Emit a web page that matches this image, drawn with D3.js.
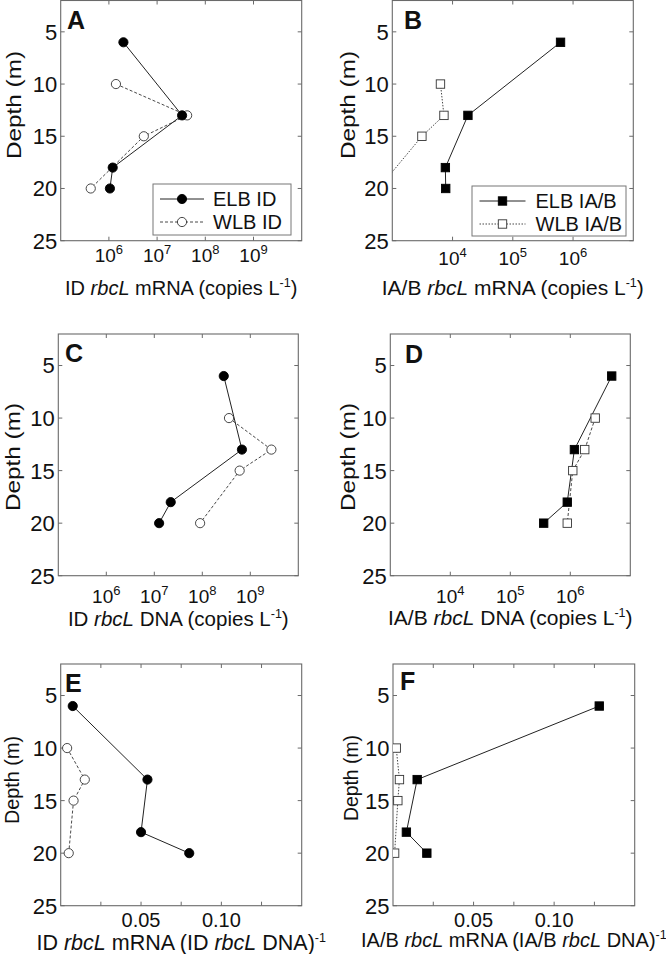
<!DOCTYPE html>
<html>
<head>
<meta charset="utf-8">
<script src="https://cdn.jsdelivr.net/npm/d3@7"></script>
<style>
  html, body { margin: 0; padding: 0; background: #fff; }
  svg { display: block; }
  text { font-family: "Liberation Sans", Arial, sans-serif; fill: #111; }
</style>
</head>
<body>
<svg id="chart" width="666" height="954"></svg>
<script>
// ---------------- DATA ----------------
const depthsELB = [6, 13, 18, 20];
const depthsWLB = [10, 13, 15, 20];
const depthTicks = [5, 10, 15, 20, 25];

// Panel A: ID rbcL mRNA (copies L-1)
const idMrnaELB = [2.0e6, 3.3e7, 1.2e6, 1.05e6];
const idMrnaWLB = [1.4e6, 4.2e7, 5.3e6, 4.2e5];
// Panel B: IA/B rbcL mRNA (copies L-1)
const iabMrnaELB = [6.2e5, 1.8e4, 7.6e3, 7.7e3];
const iabMrnaWLB = [6.3e3, 7.2e3, 3.1e3, 5.9e2];
// Panel C: ID rbcL DNA (copies L-1)
const idDnaELB = [2.8e8, 6.7e8, 2.2e7, 1.26e7];
const idDnaWLB = [3.6e8, 2.75e9, 6.0e8, 9.0e7];
// Panel D: IA/B rbcL DNA (copies L-1)
const iabDnaELB = [4.9e6, 1.17e6, 8.9e5, 3.6e5];
const iabDnaWLB = [2.6e6, 1.74e6, 1.1e6, 8.9e5];
// Panel E: ID mRNA / DNA ratio
const idRatioELB = [0.0075, 0.054, 0.050, 0.080];
const idRatioWLB = [0.004, 0.015, 0.008, 0.005];
// Panel F: IA/B mRNA / DNA ratio
const iabRatioELB = [0.128, 0.015, 0.0083, 0.021];
const iabRatioWLB = [0.002, 0.004, 0.003, 0.001];

const logTicksID = [1e6, 1e7, 1e8, 1e9];
const logTicksIAB = [1e4, 1e5, 1e6];
const ratioTicks = [0.025, 0.05, 0.075, 0.10, 0.125];
const ratioTickLabels = [0.05, 0.10];

const legendID = ["ELB ID", "WLB ID"];
const legendIAB = ["ELB IA/B", "WLB IA/B"];

// ---------------- LAYOUT ----------------
const panels = [
  { letter: "A", x0: 60.7, x1: 301.7, y0: 0.5, y1: 240.7, log: true, xdom: [1e5, 1e10],
    ticks: logTicksID, labels: logTicksID, elb: idMrnaELB, wlb: idMrnaWLB, marker: "circle", wlbDash: "3,2",
    tickBase: 262, tickFs: 19, titleBase: 295, titleFs: 20, title: ["ID ", "rbcL", " mRNA (copies  L", "-1", ")"],
    yTitleX: 21, yTitleY: 105, yTitleLen: 108, legend: legendID, legBox: [153, 184, 291, 235],
    letterPos: [67, 28.5] },
  { letter: "B", x0: 392.3, x1: 633.3, y0: 0.5, y1: 240.7, log: true, xdom: [1e3, 1e7],
    ticks: logTicksIAB, labels: logTicksIAB, elb: iabMrnaELB, wlb: iabMrnaWLB, marker: "square", wlbDash: "1.5,1.5",
    tickBase: 265, tickFs: 19, titleBase: 295, titleFs: 21, title: ["IA/B ", "rbcL", " mRNA (copies  L", "-1", ")"],
    yTitleX: 355, yTitleY: 105, yTitleLen: 108, legend: legendIAB, legBox: [472, 186, 626, 236],
    letterPos: [404, 28.5] },
  { letter: "C", x0: 58.3, x1: 298.3, y0: 334, y1: 575.7, log: true, xdom: [1e5, 1e10],
    ticks: logTicksID, labels: logTicksID, elb: idDnaELB, wlb: idDnaWLB, marker: "circle", wlbDash: "3,2",
    tickBase: 603, tickFs: 19, titleBase: 626, titleFs: 20.5, title: ["ID ", "rbcL", " DNA (copies L", "-1", ")"],
    yTitleX: 19.5, yTitleY: 457, yTitleLen: 108, legend: null,
    letterPos: [65, 362] },
  { letter: "D", x0: 390.3, x1: 630.3, y0: 334, y1: 575.7, log: true, xdom: [1e3, 1e7],
    ticks: logTicksIAB, labels: logTicksIAB, elb: iabDnaELB, wlb: iabDnaWLB, marker: "square", wlbDash: "3,2",
    tickBase: 603, tickFs: 19, titleBase: 625, titleFs: 21, title: ["IA/B ", "rbcL", " DNA (copies  L", "-1", ")"],
    yTitleX: 355, yTitleY: 457, yTitleLen: 108, legend: null,
    letterPos: [405, 362.5] },
  { letter: "E", x0: 60.7, x1: 301.7, y0: 664, y1: 905.7, log: false, xdom: [0, 0.15],
    ticks: ratioTicks, labels: ratioTickLabels, elb: idRatioELB, wlb: idRatioWLB, marker: "circle", wlbDash: "3,2",
    tickBase: 927, tickFs: 20, titleBase: 950, titleFs: 21.5, title: ["ID ", "rbcL", " mRNA (ID ", "rbcL", " DNA)", "-1"],
    yTitleX: 19, yTitleY: 780, yTitleLen: 88, legend: null,
    letterPos: [65, 691.5] },
  { letter: "F", x0: 393, x1: 634.7, y0: 664, y1: 905.7, log: false, xdom: [0, 0.15],
    ticks: ratioTicks, labels: ratioTickLabels, elb: iabRatioELB, wlb: iabRatioWLB, marker: "square", wlbDash: "1.5,1.5",
    tickBase: 927, tickFs: 20, titleBase: 947, titleFs: 20, title: ["IA/B ", "rbcL", " mRNA (IA/B ", "rbcL", " DNA)", "-1"],
    yTitleX: 358, yTitleY: 778, yTitleLen: 86, legend: null,
    letterPos: [400, 690] }
];

const svg = d3.select("#chart");
const frameColor = "#6a6a6a";
const tickLen = 4;

function drawMarker(g, type, x, y, filled) {
  if (type === "circle") {
    g.append("circle").attr("cx", x).attr("cy", y).attr("r", 4.6)
      .attr("fill", filled ? "#000" : "#fff").attr("stroke", filled ? "#000" : "#333").attr("stroke-width", 0.9);
  } else {
    const s = 8.4;
    g.append("rect").attr("x", x - s / 2).attr("y", y - s / 2).attr("width", s).attr("height", s)
      .attr("fill", filled ? "#000" : "#fff").attr("stroke", filled ? "#000" : "#333").attr("stroke-width", 0.9);
  }
}

panels.forEach((p, i) => {
  const x = (p.log ? d3.scaleLog() : d3.scaleLinear()).domain(p.xdom).range([p.x0, p.x1]);
  const y = d3.scaleLinear().domain([2, 25]).range([p.y0, p.y1]);
  const g = svg.append("g");

  // ticks: bottom/top (inward)
  const ax = g.append("g").attr("stroke", frameColor).attr("stroke-width", 1);
  p.ticks.forEach(t => {
    ax.append("line").attr("x1", x(t)).attr("x2", x(t)).attr("y1", p.y1).attr("y2", p.y1 - tickLen);
    ax.append("line").attr("x1", x(t)).attr("x2", x(t)).attr("y1", p.y0).attr("y2", p.y0 + tickLen);
  });
  depthTicks.forEach(t => {
    ax.append("line").attr("x1", p.x0).attr("x2", p.x0 + tickLen).attr("y1", y(t)).attr("y2", y(t));
    ax.append("line").attr("x1", p.x1).attr("x2", p.x1 - tickLen).attr("y1", y(t)).attr("y2", y(t));
  });

  // frame
  g.append("rect").attr("x", p.x0).attr("y", p.y0).attr("width", p.x1 - p.x0).attr("height", p.y1 - p.y0)
    .attr("fill", "none").attr("stroke", frameColor).attr("stroke-width", 1.1);

  // y tick labels
  depthTicks.forEach(t => {
    g.append("text").attr("x", p.x0 - 3.5).attr("y", y(t)).attr("dy", "0.36em")
      .attr("text-anchor", "end").attr("font-size", 22).text(t);
  });

  // x tick labels
  p.labels.forEach(t => {
    const tx = g.append("text").attr("x", x(t)).attr("y", p.tickBase).attr("text-anchor", "middle").attr("font-size", p.tickFs);
    if (p.log) {
      const e = Math.round(Math.log10(t));
      tx.append("tspan").text("10");
      tx.append("tspan").attr("dy", -8).attr("font-size", 13).text(e);
    } else {
      tx.text(d3.format(".2f")(t));
    }
  });

  // x title
  const tt = g.append("text").attr("x", (p.x0 + p.x1) / 2).attr("y", p.titleBase)
    .attr("text-anchor", "middle").attr("font-size", p.titleFs);
  let sup = false;
  p.title.forEach(s => {
    const span = tt.append("tspan").text(s);
    if (s === "rbcL") span.attr("font-style", "italic");
    if (s === "-1") { span.attr("dy", -8).attr("font-size", 12.5); sup = true; }
    else if (sup) { span.attr("dy", 8); sup = false; }
  });

  // y title
  g.append("text").attr("transform", `translate(${p.yTitleX},${p.yTitleY}) rotate(-90)`)
    .attr("text-anchor", "middle").attr("font-size", 20.5)
    .attr("textLength", p.yTitleLen).attr("lengthAdjust", "spacingAndGlyphs").text("Depth (m)");

  // panel letter
  g.append("text").attr("x", p.letterPos[0]).attr("y", p.letterPos[1]).attr("font-size", 25)
    .attr("font-weight", "bold").text(p.letter);

  // clip
  const cid = "clip" + i;
  svg.append("clipPath").attr("id", cid).append("rect")
    .attr("x", p.x0).attr("y", p.y0).attr("width", p.x1 - p.x0).attr("height", p.y1 - p.y0);
  const plot = g.append("g").attr("clip-path", `url(#${cid})`);

  const line = d3.line().x(d => x(d[0])).y(d => y(d[1]));
  const wlbPts = p.wlb.map((v, k) => [v, depthsWLB[k]]);
  const elbPts = p.elb.map((v, k) => [v, depthsELB[k]]);

  plot.append("path").attr("d", line(wlbPts)).attr("fill", "none").attr("stroke", "#333")
    .attr("stroke-width", 0.9).attr("stroke-dasharray", p.wlbDash);
  plot.append("path").attr("d", line(elbPts)).attr("fill", "none").attr("stroke", "#222")
    .attr("stroke-width", 1);
  wlbPts.forEach(d => drawMarker(plot, p.marker, x(d[0]), y(d[1]), false));
  elbPts.forEach(d => drawMarker(plot, p.marker, x(d[0]), y(d[1]), true));

  // legend
  if (p.legend) {
    const [lx0, ly0, lx1, ly1] = p.legBox;
    const lg = g.append("g");
    lg.append("rect").attr("x", lx0).attr("y", ly0).attr("width", lx1 - lx0).attr("height", ly1 - ly0)
      .attr("fill", "#fff").attr("stroke", "#777").attr("stroke-width", 1);
    const rows = [ly0 + 15, ly0 + 38];
    const isSq = p.marker === "square";
    const lineX0 = isSq ? lx0 + 7.5 : lx0 + 7;
    const lineX1 = isSq ? lx0 + 53.5 : lx0 + 51;
    const mX = (lineX0 + lineX1) / 2;
    const textX = isSq ? lx0 + 63.5 : lx0 + 60;
    p.legend.forEach((lab, k) => {
      lg.append("line").attr("x1", lineX0).attr("x2", lineX1).attr("y1", rows[k]).attr("y2", rows[k])
        .attr("stroke", k === 0 ? "#222" : "#333").attr("stroke-width", k === 0 ? 1 : 0.9)
        .attr("stroke-dasharray", k === 0 ? null : p.wlbDash);
      drawMarker(lg, p.marker, mX, rows[k], k === 0);
      lg.append("text").attr("x", textX).attr("y", rows[k]).attr("dy", "0.36em")
        .attr("font-size", 20).text(lab);
    });
  }
});
</script>
</body>
</html>
